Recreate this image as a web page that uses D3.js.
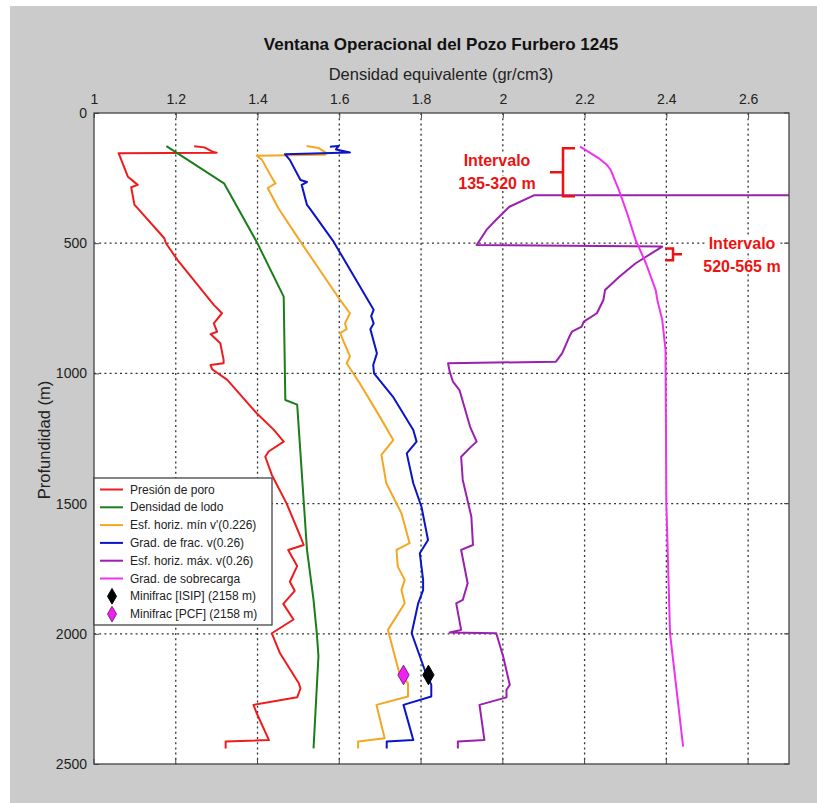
<!DOCTYPE html>
<html>
<head>
<meta charset="utf-8">
<script src="https://cdn.jsdelivr.net/npm/d3@7"></script>
<style>
  body { margin: 0; padding: 0; background: #fff; }
  svg { display: block; }
  text { font-family: "Liberation Sans Narrow", "Arial Narrow", "Liberation Sans", Arial, sans-serif; }
</style>
</head>
<body>
<svg id="chart" width="817" height="803"></svg>
<script>
// ---------------- DATA ----------------
const xTicks = [1, 1.2, 1.4, 1.6, 1.8, 2, 2.2, 2.4, 2.6];
const yTicks = [0, 500, 1000, 1500, 2000, 2500];

const seriesNames = [
  "Presión de poro",
  "Densidad de lodo",
  "Esf. horiz. mín v'(0.226)",
  "Grad. de frac. v(0.26)",
  "Esf. horiz. máx. v(0.26)",
  "Grad. de sobrecarga"
];
const seriesColors = ["#ee1c1c", "#1b7d1b", "#f5a623", "#0a14c8", "#9b1fb0", "#ee33ee"];

// Presión de poro: [depth m, density]
const poroDepth = [128,132,150,153,155,161,245,276,285,353,366,481,500,564,737,769,808,840,849,884,948,961,968,984,1025,1153,1217,1262,1300,1320,1390,1499,1627,1659,1678,1740,1800,1835,1885,1945,1998,2075,2190,2210,2244,2273,2305,2408,2414,2440];
const poroVal   = [1.245,1.27,1.292,1.30,1.06,1.062,1.083,1.107,1.091,1.099,1.107,1.172,1.176,1.204,1.293,1.313,1.293,1.301,1.285,1.309,1.317,1.317,1.285,1.289,1.326,1.398,1.44,1.464,1.427,1.419,1.435,1.471,1.505,1.513,1.475,1.497,1.479,1.491,1.463,1.488,1.435,1.455,1.501,1.505,1.497,1.39,1.398,1.428,1.322,1.322];

// Densidad de lodo
const lodoDepth = [127,150,270,498,705,1102,1120,1678,1870,1998,2085,2440];
const lodoVal   = [1.177,1.20,1.318,1.399,1.464,1.468,1.497,1.521,1.537,1.545,1.549,1.537];

// Esf. horiz. mín
const minDepth = [127,134,154,160,164,180,251,270,288,366,494,718,769,808,830,845,935,961,1038,1166,1256,1313,1422,1537,1652,1678,1742,1793,1832,1883,1985,2152,2190,2241,2273,2401,2414,2440];
const minVal   = [1.52,1.549,1.569,1.565,1.398,1.411,1.436,1.444,1.425,1.451,1.505,1.602,1.626,1.614,1.618,1.602,1.626,1.618,1.65,1.699,1.732,1.703,1.715,1.752,1.772,1.740,1.743,1.760,1.752,1.760,1.719,1.747,1.768,1.768,1.691,1.711,1.646,1.646];

// Grad. de fractura
const fracDepth = [130,127,140,149,152,158,180,257,265,276,353,369,494,756,780,808,830,923,968,1000,1089,1217,1262,1307,1422,1512,1640,1691,1793,1832,1883,1998,2139,2196,2241,2273,2408,2414,2440];
const fracVal   = [1.577,1.598,1.592,1.618,1.626,1.467,1.479,1.505,1.521,1.508,1.521,1.529,1.586,1.684,1.678,1.684,1.676,1.692,1.683,1.685,1.731,1.781,1.789,1.765,1.781,1.801,1.817,1.797,1.805,1.805,1.793,1.777,1.809,1.825,1.825,1.757,1.781,1.716,1.716];

// Esf. horiz. máx (values above 2.7 leave the plot between 135 and 320 m)
const maxDepth = [135,315,316,360,411,449,507,513,577,629,680,718,769,801,820,840,858,923,955,961,993,1032,1064,1205,1262,1285,1320,1409,1550,1659,1678,1806,1870,1883,1985,1995,1998,2088,2196,2215,2244,2273,2408,2414,2440];
const maxVal   = [3.2,3.2,2.076,2.016,1.983,1.96,1.936,2.39,2.325,2.285,2.25,2.246,2.23,2.198,2.193,2.169,2.163,2.145,2.13,1.866,1.87,1.878,1.894,1.92,1.936,1.92,1.898,1.902,1.923,1.927,1.898,1.914,1.902,1.886,1.898,1.87,1.984,2.001,2.017,2.009,2.009,1.943,1.955,1.89,1.89];

// Grad. de sobrecarga
const sobreDepth = [129,140,174,200,219,296,385,488,577,680,718,795,910,1500,1998,2433];
const sobreVal   = [2.189,2.2,2.235,2.255,2.264,2.284,2.304,2.325,2.35,2.374,2.378,2.39,2.398,2.4,2.409,2.441];

// Minifrac points
const minifracNames = ["Minifrac [ISIP] (2158 m)", "Minifrac [PCF] (2158 m)"];
const minifracDepth = [2158, 2158];
const minifracVal   = [1.818, 1.757];
const minifracColors = ["#000000", "#ee22ee"];

// Annotations
const intervalTop = [135, 520];
const intervalBottom = [320, 565];
const intervalLabels = [["Intervalo", "135-320 m"], ["Intervalo", "520-565 m"]];

// ---------------- CHART ----------------
const svg = d3.select("#chart");
svg.append("rect").attr("x", 0).attr("y", 0).attr("width", 817).attr("height", 803).attr("fill", "#ffffff");
svg.append("rect").attr("x", 10).attr("y", 6).attr("width", 807).attr("height", 797).attr("fill", "#cbcbcb");

const L = 94, R = 789, T = 113, B = 764;
const x = d3.scaleLinear().domain([1, 2.7]).range([L, R]);
const y = d3.scaleLinear().domain([0, 2500]).range([T, B]);

svg.append("rect").attr("x", L).attr("y", T).attr("width", R - L).attr("height", B - T).attr("fill", "#ffffff");

// grid
const grid = svg.append("g").attr("stroke", "#333").attr("stroke-width", 1.3).attr("stroke-dasharray", "2,3.2");
grid.selectAll("line.vx").data(xTicks.filter(d => d > 1)).enter().append("line")
  .attr("x1", d => x(d)).attr("x2", d => x(d)).attr("y1", T).attr("y2", B);
grid.selectAll("line.hy").data(yTicks.filter(d => d > 0 && d < 2500)).enter().append("line")
  .attr("x1", L).attr("x2", R).attr("y1", d => y(d)).attr("y2", d => y(d));

// axes
const fmt = d => String(d);
const xAxis = d3.axisTop(x).tickValues(xTicks).tickFormat(fmt).tickSize(-5).tickPadding(9);
const gx = svg.append("g").attr("transform", `translate(0,${T})`).call(xAxis);
gx.select(".domain").remove();
gx.selectAll("line").attr("stroke", "#444");
gx.selectAll("text").attr("font-size", 14).attr("fill", "#222");

const yAxis = d3.axisLeft(y).tickValues(yTicks).tickFormat(fmt).tickSize(-5).tickPadding(7);
const gy = svg.append("g").attr("transform", `translate(${L},0)`).call(yAxis);
gy.select(".domain").remove();
gy.selectAll("line").attr("stroke", "#444");
gy.selectAll("text").attr("font-size", 14).attr("fill", "#222");

// right / bottom ticks (mirrored)
svg.append("g").selectAll("line").data(yTicks).enter().append("line")
  .attr("x1", R).attr("x2", R - 5).attr("y1", d => y(d)).attr("y2", d => y(d)).attr("stroke", "#444");
svg.append("g").selectAll("line").data(xTicks).enter().append("line")
  .attr("x1", d => x(d)).attr("x2", d => x(d)).attr("y1", B).attr("y2", B - 5).attr("stroke", "#444");

// annotation text backgrounds (hide gridlines behind labels)
const red = "#ee1111";
const annoPos = [[497, 166], [742, 249]];
const annoLayer = svg.append("g");

// clip
svg.append("clipPath").attr("id", "clip").append("rect").attr("x", L).attr("y", T).attr("width", R - L).attr("height", B - T);

const line = d3.line().x(d => x(d[1])).y(d => y(d[0]));
const allSeries = [
  d3.zip(poroDepth, poroVal),
  d3.zip(lodoDepth, lodoVal),
  d3.zip(minDepth, minVal),
  d3.zip(fracDepth, fracVal),
  d3.zip(maxDepth, maxVal),
  d3.zip(sobreDepth, sobreVal)
];
const lines = svg.append("g").attr("clip-path", "url(#clip)");
allSeries.forEach((s, i) => {
  lines.append("path").datum(s).attr("d", line)
    .attr("fill", "none").attr("stroke", seriesColors[i]).attr("stroke-width", 2)
    .attr("stroke-linejoin", "round");
});

// minifrac diamonds
const diamond = d3.symbol().type(d3.symbolDiamond).size(110);
minifracVal.forEach((v, i) => {
  svg.append("path").attr("d", diamond)
    .attr("transform", `translate(${x(v)},${y(minifracDepth[i])})`)
    .attr("fill", minifracColors[i]).attr("stroke", i === 0 ? "#000" : "#8a1a8a").attr("stroke-width", 1);
});

// frame
svg.append("rect").attr("x", L).attr("y", T).attr("width", R - L).attr("height", B - T)
  .attr("fill", "none").attr("stroke", "#444").attr("stroke-width", 1.3);

// titles
svg.append("text").attr("x", 441).attr("y", 50).attr("text-anchor", "middle")
  .attr("font-size", 17).attr("font-weight", "bold").attr("fill", "#111")
  .text("Ventana Operacional del Pozo Furbero 1245");
svg.append("text").attr("x", 441).attr("y", 80).attr("text-anchor", "middle")
  .attr("font-size", 16.5).attr("fill", "#222")
  .text("Densidad equivalente (gr/cm3)");
svg.append("text").attr("transform", "translate(50,440) rotate(-90)").attr("text-anchor", "middle")
  .attr("font-size", 16.5).attr("fill", "#222")
  .text("Profundidad (m)");

// legend
const lg = svg.append("g");
const lgX = 94, lgY = 478, lgW = 178, lgH = 147, rowH = 17.8, row0 = 489.5;
lg.append("rect").attr("x", lgX).attr("y", lgY).attr("width", lgW).attr("height", lgH)
  .attr("fill", "#fff").attr("stroke", "#444").attr("stroke-width", 1.3);
seriesNames.forEach((n, i) => {
  const yy = row0 + i * rowH;
  lg.append("line").attr("x1", 100).attr("x2", 123).attr("y1", yy).attr("y2", yy)
    .attr("stroke", seriesColors[i]).attr("stroke-width", 2);
  lg.append("text").attr("x", 130).attr("y", yy + 4).attr("font-size", 12).attr("fill", "#222").text(n);
});
minifracNames.forEach((n, i) => {
  const yy = row0 + (6 + i) * rowH;
  lg.append("path").attr("d", d3.symbol().type(d3.symbolDiamond).size(70))
    .attr("transform", `translate(112,${yy})`)
    .attr("fill", minifracColors[i]).attr("stroke", i === 0 ? "#000" : "#8a1a8a");
  lg.append("text").attr("x", 130).attr("y", yy + 4).attr("font-size", 12).attr("fill", "#222").text(n);
});

// annotations: labels with white backing, then brackets
intervalLabels.forEach((lbls, j) => {
  const g = annoLayer.append("g");
  const texts = lbls.map((t, k) => g.append("text").attr("x", annoPos[j][0]).attr("y", annoPos[j][1] + k * 23)
    .attr("text-anchor", "middle")
    .attr("font-family", "Liberation Sans, Arial, sans-serif")
    .attr("font-size", 16).attr("font-weight", "bold").attr("fill", red).text(t));
  texts.forEach(t => {
    const bb = t.node().getBBox();
    g.insert("rect", "text").attr("x", bb.x - 2).attr("y", bb.y + 1).attr("width", bb.width + 4).attr("height", bb.height - 2)
      .attr("fill", "#fff");
  });
});
// bracket 1: "{" opening right
(function () {
  const xv = 563, y1 = y(intervalTop[0]), y2 = y(intervalBottom[0]), ym = (y1 + y2) / 2;
  svg.append("path").attr("d", `M${xv + 12},${y1} H${xv} V${y2} H${xv + 12} M${xv},${ym} H${xv - 13}`)
    .attr("fill", "none").attr("stroke", red).attr("stroke-width", 2.5);
})();
// bracket 2: "}" opening left
(function () {
  const xv = 673, y1 = y(intervalTop[1]), y2 = y(intervalBottom[1]), ym = (y1 + y2) / 2;
  svg.append("path").attr("d", `M${xv - 8},${y1} H${xv} V${y2} H${xv - 8} M${xv},${ym} H${xv + 9}`)
    .attr("fill", "none").attr("stroke", red).attr("stroke-width", 2.5);
})();
</script>
</body>
</html>
